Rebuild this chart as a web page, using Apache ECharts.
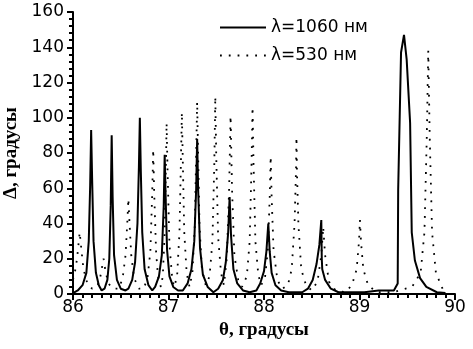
<!DOCTYPE html>
<html>
<head>
<meta charset="utf-8">
<script src="https://cdn.jsdelivr.net/npm/echarts@6/dist/echarts.min.js"></script>
<style>
  html, body { margin: 0; padding: 0; background: #fff; }
  #main { width: 473px; height: 349px; }
</style>
</head>
<body>
<div id="main"></div>
<script>
// axis ticks
var xTicks = [86, 87, 88, 89, 90];
var yTicks = [0, 20, 40, 60, 80, 100, 120, 140, 160];

// λ=1060 нм, [θ, Δ]
var wave1060 = [
  [86.00, 0.5], [86.05, 2], [86.10, 5], [86.14, 12], [86.165, 30], [86.18, 62], [86.19, 93], [86.20, 66], [86.215, 30], [86.24, 12], [86.27, 5], [86.30, 2],
  [86.33, 3], [86.36, 8], [86.38, 20], [86.395, 50], [86.405, 90], [86.415, 55], [86.43, 22], [86.46, 8], [86.50, 3], [86.55, 2],
  [86.58, 3], [86.62, 8], [86.65, 18], [86.675, 40], [86.69, 72], [86.70, 100], [86.71, 70], [86.725, 35], [86.75, 14], [86.79, 5], [86.83, 2],
  [86.86, 4], [86.90, 10], [86.93, 22], [86.95, 50], [86.96, 79], [86.97, 55], [86.985, 25], [87.01, 10], [87.05, 4], [87.10, 2],
  [87.15, 2], [87.20, 6], [87.24, 14], [87.27, 30], [87.29, 60], [87.30, 88], [87.31, 60], [87.33, 26], [87.36, 11], [87.41, 4], [87.47, 1],
  [87.52, 3], [87.57, 8], [87.60, 18], [87.625, 35], [87.64, 55], [87.655, 33], [87.68, 14], [87.72, 6], [87.78, 2], [87.85, 1],
  [87.92, 2], [87.96, 6], [88.00, 13], [88.025, 24], [88.045, 40], [88.06, 24], [88.08, 12], [88.12, 5], [88.18, 2], [88.26, 1],
  [88.40, 1], [88.46, 3], [88.51, 8], [88.55, 17], [88.58, 28], [88.60, 42], [88.605, 20], [88.61, 14], [88.64, 8], [88.70, 3], [88.78, 1], [88.90, 1],
  [89.05, 1], [89.20, 2], [89.36, 2], [89.40, 6], [89.405, 59], [89.435, 137], [89.466, 147], [89.494, 133], [89.53, 97], [89.547, 35],
  [89.58, 19], [89.634, 9], [89.70, 4], [89.81, 1], [89.90, 0.5]
];

// λ=530 нм, [θ, Δ]
var wave530 = [
  [86.00, 8], [86.03, 15], [86.05, 24], [86.07, 35], [86.09, 24], [86.11, 14], [86.15, 6], [86.20, 3],
  [86.25, 4], [86.28, 8], [86.30, 14], [86.32, 20], [86.34, 13], [86.37, 6], [86.42, 3],
  [86.48, 3], [86.52, 9], [86.55, 22], [86.57, 42], [86.58, 54], [86.59, 42], [86.61, 22], [86.64, 9], [86.69, 3],
  [86.74, 3], [86.78, 9], [86.81, 24], [86.83, 58], [86.84, 82], [86.85, 58], [86.87, 24], [86.89, 10], [86.92, 4],
  [86.94, 10], [86.96, 35], [86.975, 80], [86.98, 97], [86.99, 70], [87.01, 28], [87.04, 8], [87.06, 4],
  [87.09, 10], [87.115, 35], [87.13, 75], [87.14, 103], [87.15, 75], [87.165, 35], [87.19, 12], [87.22, 4],
  [87.25, 12], [87.275, 38], [87.29, 80], [87.30, 109], [87.31, 80], [87.325, 38], [87.35, 14], [87.39, 5],
  [87.43, 10], [87.46, 30], [87.48, 75], [87.49, 112], [87.50, 78], [87.52, 32], [87.55, 12], [87.58, 5],
  [87.61, 20], [87.635, 60], [87.65, 101], [87.665, 60], [87.69, 22], [87.73, 8], [87.77, 4],
  [87.82, 10], [87.85, 30], [87.87, 75], [87.88, 106], [87.89, 75], [87.91, 30], [87.94, 11], [87.97, 5],
  [88.01, 9], [88.04, 25], [88.06, 55], [88.07, 78], [88.08, 55], [88.10, 25], [88.14, 8], [88.19, 3],
  [88.25, 5], [88.29, 14], [88.32, 40], [88.335, 70], [88.34, 89], [88.345, 70], [88.36, 40], [88.39, 14], [88.44, 5],
  [88.50, 2], [88.56, 7], [88.60, 22], [88.62, 38], [88.64, 22], [88.68, 7], [88.75, 2],
  [88.85, 1], [88.92, 5], [88.97, 14], [88.995, 30], [89.005, 42], [89.015, 30], [89.04, 14], [89.09, 5], [89.18, 1],
  [89.35, 1], [89.55, 4], [89.64, 12], [89.68, 35], [89.705, 90], [89.72, 138], [89.735, 90], [89.76, 35], [89.80, 12],
  [89.87, 3], [89.92, 1]
];

var labelFont = {
  color: '#000',
  fontFamily: 'DejaVu Sans',
  fontSize: 17
};
var titleFont = { color: '#000', fontFamily: 'Liberation Serif', fontWeight: 'bold', fontSize: 19 };

var chart = echarts.init(document.getElementById('main'));
chart.setOption({
  animation: false,
  backgroundColor: '#fff',
  grid: { left: 73, right: 18, top: 12, bottom: 55, containLabel: false, outerBoundsMode: 'none' },
  legend: {
    orient: 'vertical',
    left: 219,
    top: 19,
    padding: 0,
    itemGap: 11,
    itemWidth: 46,
    itemHeight: 17,
    itemStyle: { opacity: 0 },
    textStyle: { color: '#000', fontFamily: 'DejaVu Sans', fontSize: 17 },
    data: ['λ=1060 нм', 'λ=530 нм']
  },
  xAxis: {
    type: 'value',
    min: xTicks[0],
    max: xTicks[xTicks.length - 1],
    interval: 1,
    name: 'θ, градусы',
    nameLocation: 'middle',
    nameGap: 27,
    nameTextStyle: titleFont,
    axisLine: { show: true, onZero: false, lineStyle: { color: '#000', width: 2 } },
    axisTick: { show: true, inside: false, length: 6, lineStyle: { color: '#000', width: 2 } },
    minorTick: { show: true, splitNumber: 10, length: 4, lineStyle: { color: '#000', width: 2 } },
    axisLabel: Object.assign({ margin: 5 }, labelFont),
    splitLine: { show: false }
  },
  yAxis: {
    type: 'value',
    min: yTicks[0],
    max: yTicks[yTicks.length - 1],
    interval: 20,
    name: 'Δ, градусы',
    nameLocation: 'middle',
    nameGap: 52,
    nameTextStyle: titleFont,
    axisLine: { show: true, lineStyle: { color: '#000', width: 2 } },
    axisTick: { show: true, inside: false, length: 6, lineStyle: { color: '#000', width: 2 } },
    minorTick: { show: true, splitNumber: 5, length: 4, lineStyle: { color: '#000', width: 2 } },
    axisLabel: Object.assign({ margin: 9 }, labelFont),
    splitLine: { show: false }
  },
  series: [
    {
      name: 'λ=1060 нм',
      type: 'line',
      symbol: 'none',
      clip: true,
      color: '#000',
      lineStyle: { color: '#000', width: 2 },
      data: wave1060
    },
    {
      name: 'λ=530 нм',
      type: 'line',
      symbol: 'none',
      clip: true,
      color: '#000',
      lineStyle: { color: '#000', width: 1.8, type: [1.8, 7] },
      data: wave530
    }
  ]
});
</script>
</body>
</html>
